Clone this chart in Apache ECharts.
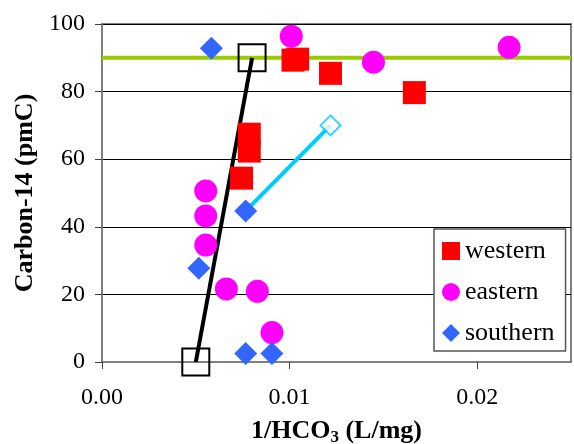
<!DOCTYPE html>
<html><head><meta charset="utf-8">
<script src="https://cdn.jsdelivr.net/npm/echarts@6/dist/echarts.min.js"></script>
<style>html,body{margin:0;padding:0;background:#fff}#c{width:574px;height:444px}</style>
</head><body><div id="c"></div>
<script>
const westernX = [0.01018, 0.01043, 0.01218, 0.01665, 0.00785, 0.00785, 0.00744];
const westernY = [89.3, 89.6, 85.4, 79.7, 67.4, 62.4, 54.4];
const easternX = [0.01009, 0.0217, 0.01447, 0.00553, 0.00553, 0.00553, 0.00663, 0.00828, 0.00906];
const easternY = [96.4, 93.1, 88.7, 50.6, 43.2, 34.6, 21.6, 20.9, 8.7];
const southernX = [0.00583, 0.00766, 0.00516, 0.00766, 0.00906];
const southernY = [92.8, 44.7, 27.7, 2.5, 2.5];
const mixX = [0.005, 0.0080];
const mixY = [0, 90];
const southTrendX = [0.00766, 0.01218];
const southTrendY = [44.7, 70.0];
const modernX = [0, 0.025];
const modernY = [90, 90];
const xTicks = [0, 0.01, 0.02];
const yTicks = [0, 20, 40, 60, 80, 100];

const pair = (xs, ys) => xs.map((x, i) => [x, ys[i]]);
const FONT = 'Liberation Serif';

const chart = echarts.init(document.getElementById('c'), null, {renderer: 'canvas'});
chart.setOption({
  animation: false,
  backgroundColor: '#fff',
  textStyle: {fontFamily: FONT},
  grid: {left: 102, top: 24, right: 3, bottom: 82, outerBoundsMode: 'none', containLabel: false,
    show: true, borderColor: '#808080', borderWidth: 2, backgroundColor: 'transparent'},
  xAxis: {
    type: 'value', min: 0, max: 0.025, interval: 0.01,
    axisLine: {lineStyle: {color: '#808080', width: 2}},
    axisTick: {show: true, length: 7, lineStyle: {color: '#404040', width: 1}, customValues: xTicks},
    axisLabel: {customValues: xTicks, formatter: v => v.toFixed(2), color: '#000', fontSize: 24, fontFamily: FONT, margin: 24},
    splitLine: {show: false},
    name: '{a|1/HCO}{s|3}{a| (L/mg)}',
    nameLocation: 'middle', nameGap: 54,
    nameTextStyle: {
      rich: {
        a: {fontSize: 26, fontWeight: 'bold', fontFamily: FONT, color: '#000', lineHeight: 30, verticalAlign: 'middle'},
        s: {fontSize: 17, fontWeight: 'bold', fontFamily: FONT, color: '#000', lineHeight: 12, verticalAlign: 'bottom'}
      }
    }
  },
  yAxis: {
    type: 'value', min: 0, max: 100, interval: 20,
    axisLine: {show: true, lineStyle: {color: '#808080', width: 2}},
    axisTick: {show: true, length: 7, lineStyle: {color: '#404040', width: 1}},
    axisLabel: {color: '#000', fontSize: 24, fontFamily: FONT, margin: 17},
    splitLine: {show: true, lineStyle: {color: '#000', width: 1}},
    name: 'Carbon-14 (pmC)', nameLocation: 'middle', nameGap: 62,
    nameTextStyle: {fontSize: 26, fontWeight: 'bold', fontFamily: FONT, color: '#000'}
  },
  legend: {
    orient: 'vertical', left: 434, top: 229,
    padding: [9, 11, 5, 8], itemGap: 15, itemWidth: 18, itemHeight: 18,
    backgroundColor: '#fff', borderColor: '#555', borderWidth: 1.5, borderRadius: 0,
    textStyle: {fontSize: 26, fontFamily: FONT, color: '#000', lineHeight: 24},
    data: [{name: 'western', icon: 'rect'}, {name: 'eastern', icon: 'circle'}, {name: 'southern', icon: 'diamond'}]
  },
  series: [
    {name: 'modern', type: 'line', data: pair(modernX, modernY), symbol: 'none', lineStyle: {color: '#99cc00', width: 4}, z: 1, silent: true},
    {name: 'mixing', type: 'line', data: pair(mixX, mixY), symbol: 'rect', symbolSize: 27,
      lineStyle: {color: '#000', width: 4}, itemStyle: {color: 'rgba(0,0,0,0)', borderColor: '#000', borderWidth: 2}, z: 2},
    {name: 'southtrend', type: 'line', data: pair(southTrendX, southTrendY), symbol: 'none', showSymbol: false,
      lineStyle: {color: '#00ccff', width: 4}, z: 2},
    {name: 'western', type: 'scatter', data: pair(westernX, westernY), symbol: 'rect', symbolSize: 23, itemStyle: {color: '#ff0000', opacity: 1}, z: 3},
    {name: 'eastern', type: 'scatter', data: pair(easternX, easternY), symbol: 'circle', symbolSize: 23, itemStyle: {color: '#ff00ff', opacity: 1}, z: 3},
    {name: 'southern', type: 'scatter', data: pair(southernX, southernY), symbol: 'diamond', symbolSize: 23, itemStyle: {color: '#3366ff', opacity: 1}, z: 3},
    {name: 'southtrendEnd', type: 'scatter', data: [[southTrendX[1], southTrendY[1]]], symbol: 'diamond', symbolSize: 20,
      itemStyle: {color: '#fff', borderColor: '#00ccff', borderWidth: 2}, z: 4}
  ]
});
</script></body></html>
